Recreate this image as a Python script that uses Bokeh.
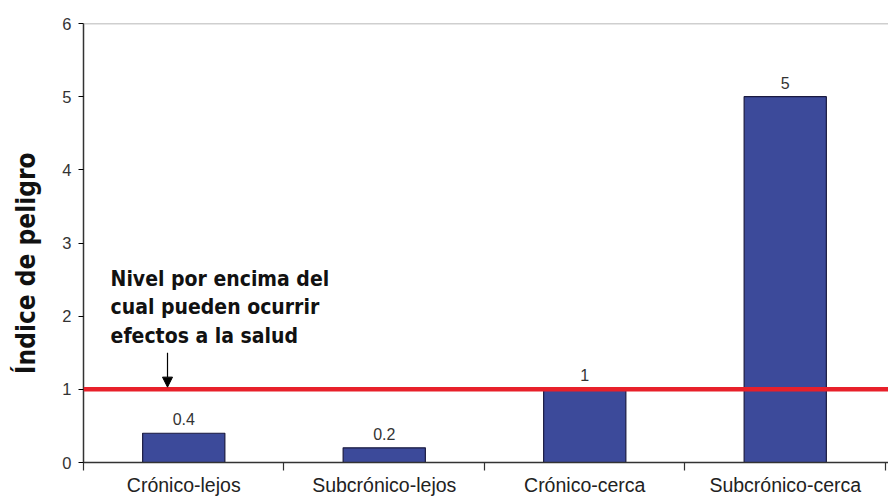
from bokeh.plotting import figure
from bokeh.models import Range1d, FixedTicker, Span, Label, Arrow, NormalHead, ColumnDataSource
from bokeh.core.properties import value
from bokeh.embed import file_html
from bokeh.resources import INLINE

categories = ["Crónico-lejos", "Subcrónico-lejos", "Crónico-cerca", "Subcrónico-cerca"]
values = [0.4, 0.2, 1, 5]
value_labels = ["0.4", "0.2", "1", "5"]
threshold = 1
y_ticks = [0, 1, 2, 3, 4, 5, 6]
note = "Nivel por encima del\ncual pueden ocurrir\nefectos a la salud"
y_title = "Índice de peligro"

centers = [i + 0.5 for i in range(len(categories))]
bounds = [float(i) for i in range(len(categories) + 1)]

NARROW = "Liberation Sans Narrow, DejaVu Sans Condensed, Arial Narrow, sans-serif"
SANS = "Liberation Sans, Arial, sans-serif"

p = figure(width=888, height=498, output_backend="svg", toolbar_location=None,
           x_range=Range1d(0, 4.015), y_range=Range1d(0, 6),
           min_border_left=83, min_border_right=0, min_border_top=23, min_border_bottom=30)
p.outline_line_color = None
p.background_fill_color = "white"
p.border_fill_color = "white"
p.xgrid.visible = False
p.ygrid.visible = False

src = ColumnDataSource(dict(x=centers, top=values, lab=value_labels))
p.vbar(x="x", top="top", bottom=0, width=0.41, source=src,
       fill_color="#3C4A9A", line_color="#1a1a40", line_width=1.2)

p.text(x="x", y="top", text="lab", source=src, text_align="center", text_baseline="bottom",
       y_offset=-8, text_font=value(SANS), text_font_size="16px", text_color="#333333")

# top line
p.add_layout(Span(location=6, dimension="width", line_color="#a0a0a0", line_width=1.5))
# threshold line
p.add_layout(Span(location=threshold, dimension="width", line_color="#E8202A", line_width=4.5))

p.add_layout(Label(x=0.135, y=2.12, text=note, text_font=NARROW, text_font_size="21px",
                   text_font_style="bold", text_color="#111111", text_align="left",
                   text_baseline="middle", text_line_height=1.2))

p.add_layout(Arrow(end=NormalHead(size=10, fill_color="black", line_color="black"),
                   x_start=0.419, y_start=1.50, x_end=0.419, y_end=threshold + 0.03,
                   line_color="black", line_width=1.2))

# axes
ya = p.yaxis[0]
ya.ticker = FixedTicker(ticks=y_ticks)
ya.axis_line_color = "#333333"
ya.axis_line_width = 1.5
ya.major_tick_out = 5
ya.major_tick_in = 0
ya.minor_tick_line_color = None
ya.major_label_text_font = SANS
ya.major_label_text_font_size = "16.5px"
ya.major_label_text_color = "#333333"
ya.major_label_standoff = 7
ya.axis_label = y_title + "\u00a0" * 5
ya.axis_label_text_font = NARROW
ya.axis_label_text_font_size = "26px"
ya.axis_label_text_font_style = "bold"
ya.axis_label_text_color = "#111111"
ya.axis_label_standoff = 18

xa = p.xaxis[0]
xa.ticker = FixedTicker(ticks=centers, minor_ticks=bounds)
xa.major_label_overrides = {c: t for c, t in zip(centers, categories)}
xa.axis_line_color = "#333333"
xa.axis_line_width = 1.5
xa.major_tick_line_color = None
xa.major_tick_out = 0
xa.minor_tick_out = 8
xa.minor_tick_in = 0
xa.minor_tick_line_color = "#333333"
xa.minor_tick_line_width = 1.2
xa.major_label_text_font = SANS
xa.major_label_text_font_size = "19.5px"
xa.major_label_text_color = "#222222"
xa.major_label_standoff = 3

open("out.html", "w").write(file_html(p, INLINE))
